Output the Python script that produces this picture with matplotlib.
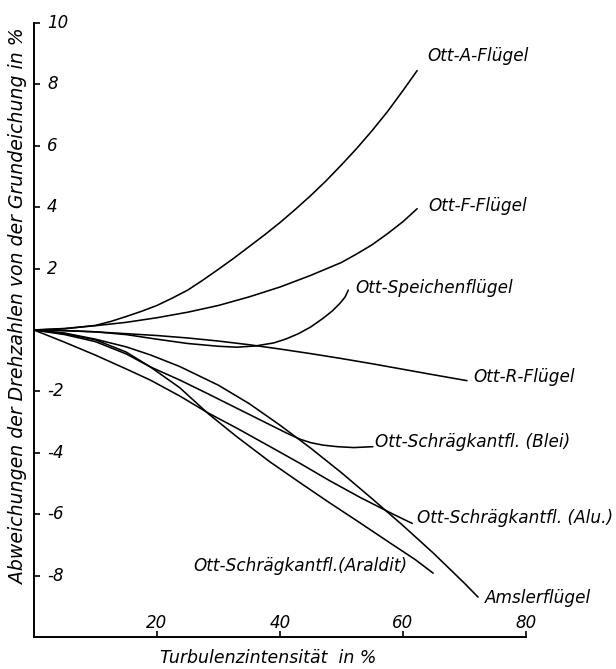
import matplotlib
matplotlib.use('Agg')
import matplotlib.pyplot as plt

plt.rcParams['font.family'] = ['DejaVu Sans']
plt.rcParams['font.style'] = 'italic'

# ---------------- data ----------------
x_ticks = [20, 40, 60, 80]
x_tick_labels = ['20', '40', '60', '80']
y_ticks = [10, 8, 6, 4, 2, -2, -4, -6, -8]
y_tick_labels = ['10', '8', '6', '4', '2', '-2', '-4', '-6', '-8']

x_label = 'Turbulenzintensität  in %'
y_label = 'Abweichungen der Drehzahlen von der Grundeichung in %'

ott_a_x = [0, 5, 10, 12.5, 15, 17.5, 20, 22.5, 25, 27.5, 30, 32.5, 35, 37.5, 40, 42.5,
           45, 47.5, 50, 52.5, 55, 57.5, 60, 62.3]
ott_a_y = [0, 0.04, 0.15, 0.28, 0.44, 0.61, 0.8, 1.04, 1.3, 1.63, 1.98, 2.34, 2.72,
           3.1, 3.5, 3.93, 4.38, 4.86, 5.38, 5.92, 6.5, 7.12, 7.8, 8.45]

ott_f_x = [0, 5, 10, 15, 20, 25, 30, 35, 40, 45, 50, 52.5, 55, 57.5, 60, 62.3]
ott_f_y = [0, 0.05, 0.14, 0.25, 0.4, 0.58, 0.8, 1.08, 1.4, 1.78, 2.2, 2.48, 2.78,
           3.14, 3.53, 3.95]

speichen_x = [0, 5, 10, 15, 20, 25, 30, 33, 36, 39, 41, 43, 45, 47, 48.5, 49.8,
              50.6, 51.1]
speichen_y = [0, -0.02, -0.06, -0.15, -0.3, -0.44, -0.53, -0.56, -0.52, -0.42, -0.29,
              -0.12, 0.1, 0.38, 0.62, 0.88, 1.08, 1.3]

ott_r_x = [0, 5, 10, 15, 20, 25, 30, 35, 40, 45, 50, 55, 60, 65, 70.4]
ott_r_y = [0, -0.02, -0.06, -0.12, -0.18, -0.26, -0.36, -0.48, -0.62, -0.77, -0.93,
           -1.1, -1.28, -1.46, -1.65]

blei_x = [0, 5, 10, 15, 18.9, 23.7, 28, 33, 38.4, 41, 43.3, 45, 47, 49.3, 52, 55.1]
blei_y = [0, -0.15, -0.38, -0.78, -1.2, -1.63, -2.05, -2.55, -3.09, -3.35, -3.56,
          -3.67, -3.75, -3.8, -3.83, -3.8]

alu_x = [0, 5, 10, 15, 18.9, 23.7, 28.3, 33, 38.4, 43.3, 48, 53, 58.4, 61.5]
alu_y = [0, -0.4, -0.82, -1.27, -1.63, -2.15, -2.7, -3.2, -3.8, -4.35, -4.9, -5.45,
         -6.0, -6.3]

araldit_x = [0, 5, 10, 15, 18.9, 23.7, 28.3, 33, 38.4, 43.3, 48, 53, 58, 62, 64.9]
araldit_y = [0, -0.12, -0.32, -0.72, -1.2, -1.88, -2.72, -3.48, -4.3, -4.98, -5.62,
             -6.28, -6.95, -7.48, -7.92]

amsler_x = [0, 5, 10, 15, 18.9, 23.7, 30, 35, 40, 45, 50, 55, 60, 65, 70, 72.2]
amsler_y = [0, -0.1, -0.3, -0.55, -0.81, -1.19, -1.8, -2.4, -3.1, -3.85, -4.65, -5.5,
            -6.37, -7.28, -8.25, -8.7]

curve_names = ['Ott-A-Flügel', 'Ott-F-Flügel', 'Ott-Speichenflügel', 'Ott-R-Flügel',
               'Ott-Schrägkantfl. (Blei)', 'Ott-Schrägkantfl. (Alu.)',
               'Ott-Schrägkantfl.(Araldit)', 'Amslerflügel']

# ---------------- layout ----------------
label_pos = [(63.9, 8.92), (64.1, 4.04), (52.2, 1.37), (71.4, -1.53),
             (55.4, -3.65), (62.3, -6.12), (25.9, -7.69), (73.3, -8.73)]

curves = [(ott_a_x, ott_a_y), (ott_f_x, ott_f_y), (speichen_x, speichen_y),
          (ott_r_x, ott_r_y), (blei_x, blei_y), (alu_x, alu_y),
          (araldit_x, araldit_y), (amsler_x, amsler_y)]

W, H = 616, 669
fig = plt.figure(figsize=(W / 100, H / 100), dpi=100)
ax = fig.add_axes([34 / W, 32 / H, 492 / W, 614 / H])
ax.set_xlim(0, 80)
ax.set_ylim(-10, 10)

for (xs, ys), name, (lx, ly) in zip(curves, curve_names, label_pos):
    ax.plot(xs, ys, color='black', lw=1.15, solid_capstyle='round',
            solid_joinstyle='round')
    ax.text(lx, ly, name, fontsize=12.2, ha='left', va='center', color='black')

for side in ('top', 'right'):
    ax.spines[side].set_visible(False)
for side in ('left', 'bottom'):
    ax.spines[side].set_linewidth(1.4)
    ax.spines[side].set_color('black')

ax.set_xticks(x_ticks, x_tick_labels)
ax.set_yticks(y_ticks, y_tick_labels)
ax.tick_params(axis='x', direction='in', length=4.5, width=1.2, pad=-6.5,
               labelsize=12)
ax.tick_params(axis='y', direction='in', length=4.5, width=1.2, pad=-9.4,
               labelsize=12)
for t in ax.get_xticklabels():
    t.set_va('baseline')
for t in ax.get_yticklabels():
    t.set_ha('left')
    t.set_va('center')

ax.set_xlabel(x_label, fontsize=12.5, va='center')
ax.xaxis.set_label_coords(0.4756, -0.034)
ax.set_ylabel(y_label, fontsize=13.6, va='center')
ax.yaxis.set_label_coords(-0.0325, 0.539)

fig.savefig('out.png', dpi=100)
